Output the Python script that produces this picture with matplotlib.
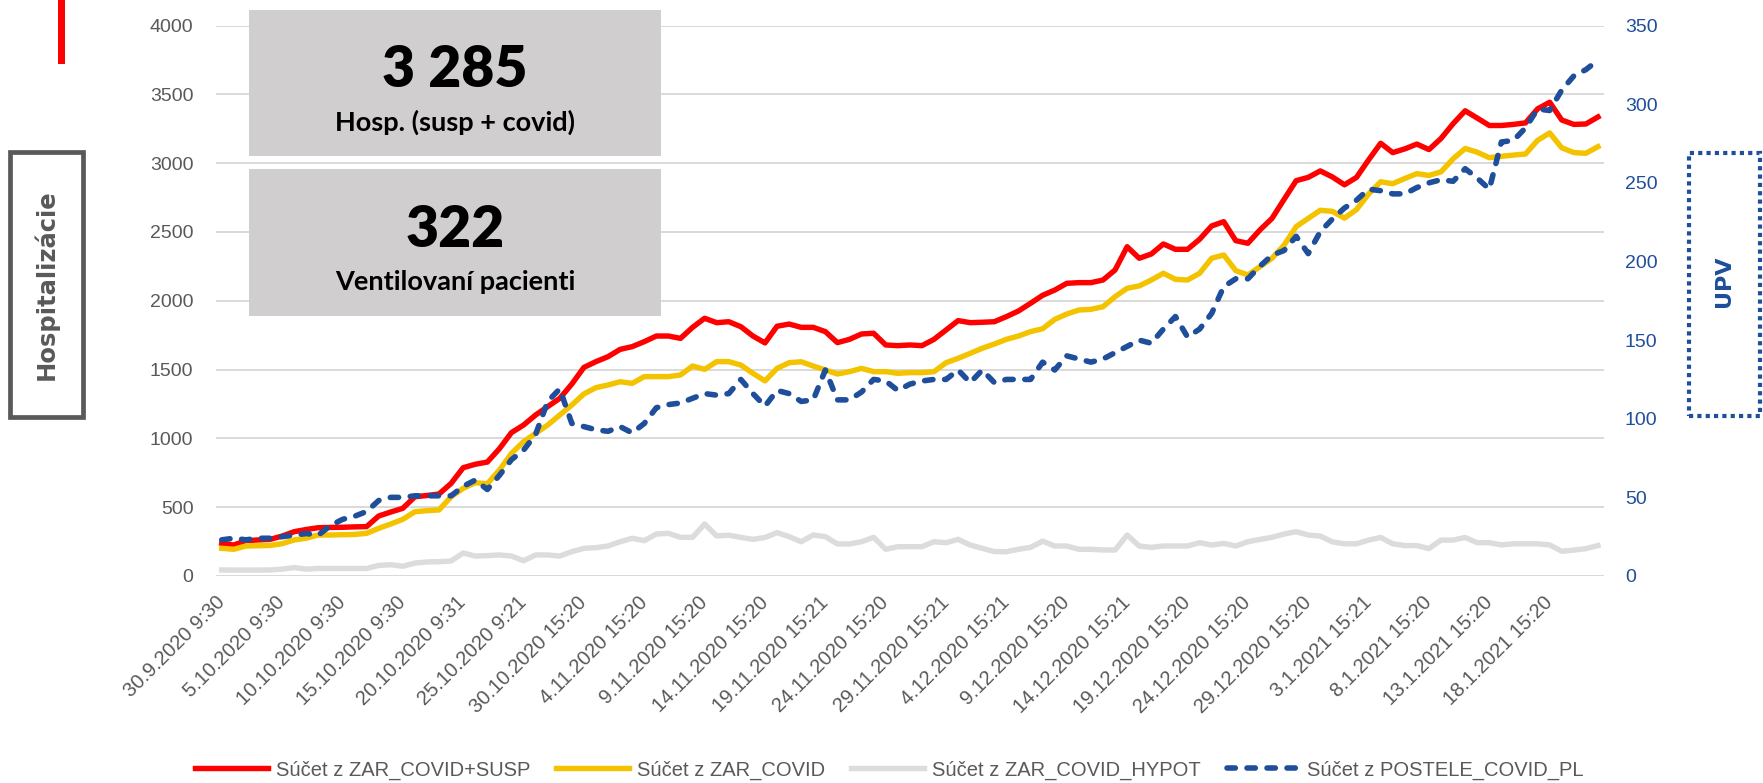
import matplotlib
matplotlib.use("Agg")
import matplotlib.pyplot as plt
from matplotlib.patches import Rectangle

RED = "#ff0000"; GOLD = "#f4c300"; LGRAY = "#dcdcdc"; BLUE = "#1f4e9a"
TXT = "#595959"; BOX = "#d0cece"; GRID = "#d9d9d9"
SANS = ["Liberation Sans", "DejaVu Sans"]
HEAVY = ["Lato", "DejaVu Sans"]

# every 5th category label (data is daily, 30.9.2020 .. 22.1.2021)
tick_labels = ["30.9.2020 9:30", "5.10.2020 9:30", "10.10.2020 9:30", "15.10.2020 9:30",
               "20.10.2020 9:31", "25.10.2020 9:21", "30.10.2020 15:20", "4.11.2020 15:20",
               "9.11.2020 15:20", "14.11.2020 15:20", "19.11.2020 15:21", "24.11.2020 15:20",
               "29.11.2020 15:21", "4.12.2020 15:21", "9.12.2020 15:20", "14.12.2020 15:21",
               "19.12.2020 15:20", "24.12.2020 15:20", "29.12.2020 15:20", "3.1.2021 15:21",
               "8.1.2021 15:20", "13.1.2021 15:20", "18.1.2021 15:20"]

zar_covid_susp = [237, 225, 257, 262, 266, 290, 322, 338, 351, 353,
                  354, 357, 359, 436, 465, 492, 576, 585, 596, 673,
                  787, 812, 828, 925, 1042, 1097, 1170, 1231, 1291, 1395,
                  1516, 1558, 1594, 1647, 1667, 1703, 1744, 1744, 1727, 1807,
                  1873, 1841, 1848, 1812, 1744, 1694, 1815, 1831, 1807, 1807,
                  1776, 1696, 1720, 1759, 1764, 1679, 1674, 1679, 1674, 1720,
                  1788, 1856, 1841, 1844, 1848, 1885, 1926, 1982, 2040, 2078,
                  2127, 2132, 2132, 2151, 2224, 2393, 2309, 2340, 2413, 2374,
                  2374, 2447, 2544, 2575, 2437, 2418, 2515, 2599, 2737, 2873,
                  2897, 2944, 2900, 2843, 2897, 3024, 3145, 3077, 3104, 3139,
                  3099, 3180, 3287, 3381, 3328, 3274, 3274, 3282, 3293, 3395,
                  3443, 3314, 3282, 3285, 3336]
zar_covid = [201, 194, 218, 220, 222, 235, 262, 275, 298, 298,
             300, 302, 310, 346, 378, 412, 467, 475, 480, 576,
             637, 678, 670, 770, 891, 976, 1037, 1097, 1170, 1243,
             1323, 1369, 1388, 1412, 1400, 1449, 1449, 1449, 1461, 1526,
             1502, 1558, 1558, 1533, 1473, 1418, 1509, 1550, 1557, 1526,
             1497, 1468, 1485, 1509, 1485, 1485, 1473, 1478, 1478, 1485,
             1550, 1582, 1618, 1655, 1686, 1720, 1744, 1776, 1797, 1865,
             1904, 1933, 1938, 1957, 2030, 2091, 2108, 2151, 2200, 2156,
             2151, 2200, 2309, 2333, 2219, 2188, 2248, 2309, 2405, 2539,
             2599, 2658, 2650, 2601, 2663, 2776, 2865, 2851, 2889, 2924,
             2911, 2937, 3032, 3107, 3080, 3040, 3050, 3059, 3067, 3166,
             3220, 3112, 3077, 3072, 3120]
zar_covid_hypot = [44, 43, 43, 43, 44, 50, 61, 50, 55, 55,
                   55, 55, 55, 77, 82, 71, 94, 102, 104, 109,
                   167, 145, 148, 153, 145, 111, 153, 153, 145, 177,
                   201, 206, 218, 249, 274, 257, 305, 310, 281, 281,
                   378, 291, 296, 281, 266, 280, 315, 286, 249, 298,
                   286, 233, 233, 249, 281, 194, 213, 213, 213, 249,
                   242, 266, 225, 201, 177, 177, 194, 208, 253, 218,
                   218, 194, 194, 189, 189, 298, 218, 208, 218, 218,
                   218, 242, 225, 237, 218, 249, 266, 281, 305, 322,
                   298, 290, 248, 234, 234, 261, 280, 234, 221, 221,
                   199, 261, 261, 280, 242, 242, 226, 234, 234, 234,
                   226, 180, 188, 199, 221]
postele_covid_pl = [23, 24, 23, 24, 24, 25, 26, 27, 26, 32,
                    36, 38, 41, 48, 50, 50, 51, 51, 51, 51,
                    57, 61, 55, 64, 74, 80, 90, 111, 119, 97,
                    95, 93, 92, 95, 91, 97, 107, 109, 110, 113,
                    116, 115, 116, 125, 116, 108, 118, 116, 111, 112,
                    131, 112, 112, 117, 125, 124, 118, 122, 124, 125,
                    125, 131, 123, 131, 123, 125, 125, 125, 136, 131,
                    140, 138, 136, 138, 142, 146, 150, 148, 157, 165,
                    152, 157, 167, 184, 189, 189, 197, 204, 207, 216,
                    205, 219, 227, 234, 239, 246, 245, 243, 243, 247,
                    250, 252, 251, 259, 253, 246, 276, 277, 285, 297,
                    296, 309, 318, 322, 328]

W, H = 1763, 783
fig = plt.figure(figsize=(W / 100, H / 100), dpi=100)
fig.patch.set_facecolor("white")

def fx(px): return px / W
def fy(py): return 1 - py / H

ax = fig.add_axes([fx(215.7), fy(576), fx(1604 - 215.7), (576 - 25.6) / H])
ax2 = ax.twinx()
x = list(range(len(zar_covid_susp)))

l1, = ax.plot(x, zar_covid_susp, color=RED, lw=3.9, solid_joinstyle="round", label="Súčet z ZAR_COVID+SUSP")
l2, = ax.plot(x, zar_covid, color=GOLD, lw=3.9, solid_joinstyle="round", label="Súčet z ZAR_COVID")
l3, = ax.plot(x, zar_covid_hypot, color=LGRAY, lw=3.9, solid_joinstyle="round", label="Súčet z ZAR_COVID_HYPOT")
l4, = ax2.plot(x, postele_covid_pl, color=BLUE, lw=4, dashes=(1.5, 2.1), dash_capstyle="round",
               label="Súčet z POSTELE_COVID_PL")

ax.set_xlim(-0.5, len(x) - 0.5)
ax.set_ylim(0, 4000); ax2.set_ylim(0, 350)
ax.set_yticks(range(0, 4001, 500)); ax2.set_yticks(range(0, 351, 50))
ax.set_xticks(range(0, len(x), 5))
ax.set_xticklabels(tick_labels, rotation=45, ha="right", va="center", rotation_mode="anchor",
                   fontsize=14.5, color=TXT, family=SANS)
for t in ax.get_yticklabels(): t.set_family(SANS)
for t in ax2.get_yticklabels(): t.set_family(SANS)
ax.tick_params(axis="x", length=0, pad=17)
ax.tick_params(axis="y", length=0, pad=16, labelsize=14, labelcolor=TXT)
ax2.tick_params(axis="y", length=0, pad=15, labelsize=14, labelcolor=BLUE)
ax.yaxis.grid(True, color=GRID, lw=1.4); ax.set_axisbelow(True)
for a in (ax, ax2):
    for s in a.spines.values(): s.set_visible(False)

leg = fig.legend([l1, l2, l3, l4], [l.get_label() for l in (l1, l2, l3, l4)], loc="center",
                 bbox_to_anchor=(fx(889.5), fy(770)), ncol=4, frameon=False, handlelength=3.6,
                 handletextpad=0.4, columnspacing=1.3, prop=dict(family=SANS, size=14.5))
for t in leg.get_texts(): t.set_color(TXT)

# info boxes
fig.add_artist(Rectangle((fx(249), fy(155.7)), fx(661 - 249), (155.7 - 10) / H, transform=fig.transFigure,
                         fc=BOX, ec="none"))
fig.add_artist(Rectangle((fx(249), fy(315.7)), fx(661 - 249), (315.7 - 169) / H, transform=fig.transFigure,
                         fc=BOX, ec="none"))
fig.text(fx(455), fy(87.3), "3 285", ha="center", va="baseline", fontsize=41, fontweight="heavy",
         family=HEAVY, color="black")
fig.text(fx(455), fy(130.7), "Hosp. (susp + covid)", ha="center", va="baseline", fontsize=19.5,
         fontweight="bold", family=HEAVY, color="black")
fig.text(fx(455), fy(246.7), "322", ha="center", va="baseline", fontsize=41, fontweight="heavy",
         family=HEAVY, color="black")
fig.text(fx(455), fy(290), "Ventilovaní pacienti", ha="center", va="baseline", fontsize=19.5,
         fontweight="bold", family=HEAVY, color="black")

# side labels
fig.add_artist(Rectangle((fx(58), fy(64)), fx(7), 64 / H, transform=fig.transFigure, fc=RED, ec="none"))
fig.add_artist(Rectangle((fx(10), fy(417)), fx(73), 265 / H, transform=fig.transFigure,
                         fill=False, ec=TXT, lw=3.4))
fig.text(fx(46.5), fy(285), "Hospitalizácie", rotation=90, ha="center", va="center",
         fontsize=17.5, fontweight="bold", color=TXT, family="DejaVu Sans")
fig.add_artist(Rectangle((fx(1689), fy(416)), fx(1760 - 1689), 263 / H, transform=fig.transFigure,
                         fill=False, ec=BLUE, lw=3, ls=(0, (1, 1))))
fig.text(fx(1724), fy(281), "UPV", rotation=90, ha="center", va="center",
         fontsize=16, fontweight="bold", color=BLUE, family="DejaVu Sans")

fig.savefig("out.png", dpi=100)
